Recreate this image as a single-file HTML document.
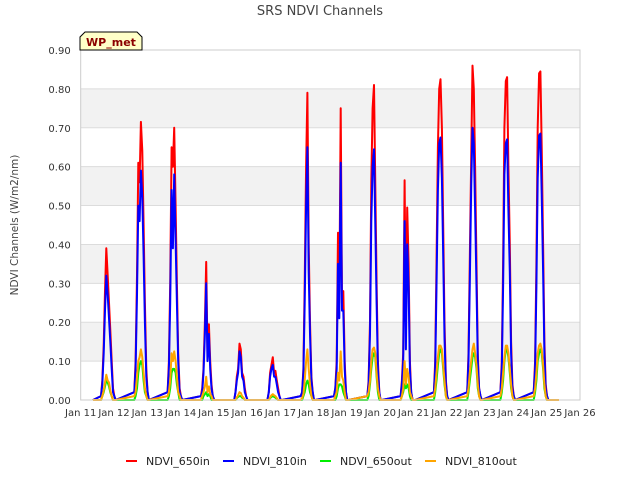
<!DOCTYPE html>
<html><head><meta charset="utf-8"><style>
body{margin:0;background:#fff;font-family:"Liberation Sans","DejaVu Sans",sans-serif;}
svg text{font-family:"DejaVu Sans","Liberation Sans",sans-serif;}
</style></head><body>
<svg id="chart" width="640" height="480" xmlns="http://www.w3.org/2000/svg">
<text x="320" y="15" text-anchor="middle" font-size="13" fill="#444">SRS NDVI Channels</text>
<text transform="translate(18,225) rotate(-90)" text-anchor="middle" font-size="10.5" fill="#444">NDVI Channels (W/m2/nm)</text>
<g id="grid"></g><g id="series"></g><g id="axes"></g>
<g>
<path d="M80,50 L80,37 L85,32 L137,32 L142,37 L142,50 Z" fill="#ffffc8" stroke="#000" stroke-width="1"/>
<text x="111" y="46" text-anchor="middle" font-size="11" font-weight="bold" fill="#8b0000">WP_met</text></g>
<g id="legend"></g>
</svg>
<script>
const tickLabels=["Jan 11","Jan 12","Jan 13","Jan 14","Jan 15","Jan 16","Jan 17","Jan 18","Jan 19","Jan 20","Jan 21","Jan 22","Jan 23","Jan 24","Jan 25","Jan 26"];
const yTicks=[0,0.1,0.2,0.3,0.4,0.5,0.6,0.7,0.8,0.9];
const seriesNames=["NDVI_650in","NDVI_810in","NDVI_650out","NDVI_810out"];
const seriesColors=["#ff0000","#0000ff","#00ee00","#ffa500"];
const peakOffset=0.83;
const hourOffsets=[-0.22,-0.18,-0.14,-0.10,-0.06,-0.02,0.02,0.06,0.10,0.14,0.18,0.22];
const red650in=[
[0.01,0.05,0.14,0.28,0.39,0.32,0.25,0.18,0.10,0.03,0.01,0],
[0.02,0.10,0.32,0.61,0.56,0.715,0.64,0.45,0.25,0.08,0.02,0],
[0.02,0.10,0.30,0.65,0.60,0.70,0.50,0.30,0.12,0.03,0.01,0],
[0.01,0.03,0.08,0.20,0.355,0.12,0.195,0.10,0.04,0.01,0,0],
[0,0.02,0.06,0.08,0.145,0.13,0.07,0.06,0.03,0.01,0,0],
[0,0.02,0.07,0.09,0.11,0.07,0.075,0.05,0.03,0.01,0,0],
[0.01,0.02,0.08,0.30,0.60,0.79,0.40,0.20,0.06,0.02,0,0],
[0.01,0.03,0.10,0.43,0.25,0.75,0.26,0.28,0.10,0.02,0,0],
[0.01,0.05,0.20,0.56,0.75,0.81,0.55,0.30,0.10,0.02,0,0],
[0.01,0.05,0.12,0.565,0.20,0.495,0.35,0.10,0.02,0,0,0],
[0.02,0.10,0.35,0.65,0.80,0.825,0.70,0.45,0.20,0.05,0.01,0],
[0.02,0.12,0.36,0.62,0.86,0.80,0.60,0.35,0.12,0.03,0.01,0],
[0.02,0.10,0.35,0.70,0.82,0.83,0.60,0.40,0.15,0.04,0.01,0],
[0.02,0.10,0.35,0.70,0.84,0.845,0.65,0.40,0.15,0.04,0.01,0]];
const blue810in=[
[0.01,0.04,0.12,0.23,0.32,0.27,0.21,0.15,0.08,0.02,0.01,0],
[0.02,0.08,0.27,0.50,0.46,0.59,0.52,0.37,0.20,0.06,0.02,0],
[0.02,0.08,0.25,0.54,0.39,0.58,0.41,0.25,0.10,0.02,0.01,0],
[0.01,0.02,0.07,0.17,0.30,0.10,0.17,0.08,0.03,0.01,0,0],
[0,0.02,0.05,0.07,0.125,0.11,0.06,0.05,0.02,0.01,0,0],
[0,0.02,0.06,0.08,0.09,0.06,0.06,0.04,0.02,0.01,0,0],
[0.01,0.02,0.07,0.25,0.50,0.65,0.33,0.17,0.05,0.02,0,0],
[0.01,0.03,0.08,0.35,0.21,0.61,0.23,0.23,0.08,0.02,0,0],
[0.01,0.04,0.17,0.46,0.60,0.645,0.45,0.25,0.08,0.02,0,0],
[0.01,0.04,0.10,0.46,0.13,0.40,0.29,0.08,0.02,0,0,0],
[0.02,0.08,0.29,0.54,0.66,0.675,0.57,0.37,0.16,0.04,0.01,0],
[0.02,0.10,0.30,0.55,0.70,0.66,0.49,0.29,0.10,0.03,0.01,0],
[0.02,0.08,0.29,0.58,0.66,0.67,0.49,0.33,0.12,0.03,0.01,0],
[0.02,0.08,0.29,0.57,0.68,0.685,0.53,0.33,0.12,0.03,0.01,0]];
const green650out=[
[0,0.01,0.02,0.035,0.05,0.045,0.035,0.02,0.01,0,0,0],
[0,0.01,0.03,0.07,0.09,0.10,0.09,0.05,0.02,0.01,0,0],
[0,0.01,0.03,0.07,0.08,0.08,0.07,0.04,0.02,0,0,0],
[0,0,0.01,0.015,0.02,0.01,0.015,0.01,0,0,0,0],
[0,0,0.005,0.008,0.01,0.01,0.006,0.004,0,0,0,0],
[0,0,0.005,0.008,0.01,0.008,0.006,0.003,0,0,0,0],
[0,0,0.01,0.02,0.04,0.05,0.04,0.02,0.01,0,0,0],
[0,0,0.01,0.03,0.04,0.04,0.035,0.02,0.01,0,0,0],
[0,0.01,0.04,0.08,0.11,0.12,0.11,0.06,0.02,0,0,0],
[0,0.01,0.02,0.04,0.03,0.04,0.03,0.01,0,0,0,0],
[0,0.02,0.05,0.09,0.12,0.13,0.12,0.08,0.04,0.01,0,0],
[0,0.02,0.05,0.08,0.11,0.12,0.11,0.08,0.03,0.01,0,0],
[0,0.02,0.05,0.10,0.13,0.13,0.11,0.07,0.03,0.01,0,0],
[0,0.02,0.05,0.10,0.12,0.13,0.12,0.08,0.03,0.01,0,0]];
const orange810out=[
[0,0.01,0.025,0.045,0.065,0.05,0.045,0.025,0.01,0,0,0],
[0.01,0.02,0.06,0.10,0.11,0.13,0.11,0.07,0.03,0.01,0,0],
[0.01,0.02,0.05,0.12,0.10,0.125,0.10,0.06,0.02,0.01,0,0],
[0,0.01,0.02,0.035,0.06,0.02,0.035,0.015,0.01,0,0,0],
[0,0,0.007,0.012,0.02,0.018,0.01,0.006,0,0,0,0],
[0,0,0.007,0.012,0.015,0.012,0.01,0.005,0,0,0,0],
[0,0.005,0.015,0.05,0.10,0.13,0.08,0.04,0.01,0,0,0],
[0,0.01,0.02,0.07,0.05,0.125,0.06,0.05,0.02,0,0,0],
[0.01,0.02,0.05,0.10,0.13,0.135,0.12,0.07,0.03,0.01,0,0],
[0,0.01,0.03,0.10,0.04,0.08,0.06,0.02,0.01,0,0,0],
[0.01,0.03,0.07,0.11,0.14,0.14,0.13,0.09,0.05,0.01,0,0],
[0.01,0.03,0.07,0.10,0.13,0.145,0.12,0.09,0.04,0.01,0,0],
[0.01,0.03,0.07,0.11,0.14,0.14,0.12,0.08,0.04,0.01,0,0],
[0.01,0.03,0.07,0.12,0.14,0.145,0.13,0.09,0.04,0.01,0,0]];
const dataStart=0.37, dataEnd=14.37;

const NS="http://www.w3.org/2000/svg";
const L=80.7,R=580,T=50,B=400,yMax=0.9,days=15;
const xs=d=>L+(R-L)*d/days;
const ys=v=>B-(B-T)*v/yMax;
function mk(tag,attrs,parent){const e=document.createElementNS(NS,tag);for(const k in attrs)e.setAttribute(k,attrs[k]);parent.appendChild(e);return e;}
const grid=document.getElementById('grid'),axes=document.getElementById('axes'),ser=document.getElementById('series'),leg=document.getElementById('legend');
for(let i=0;i<yTicks.length-1;i++){
  if(i%2===1){const r=mk('rect',{x:L,y:ys(yTicks[i+1]),width:R-L,height:ys(yTicks[i])-ys(yTicks[i+1]),fill:'#f2f2f2'},grid);
  
  }
}
yTicks.forEach(v=>{
  const l=mk('line',{x1:L,x2:R,y1:ys(v),y2:ys(v),stroke:'#dcdcdc','stroke-width':1},grid);
  
  
  const t=mk('text',{x:L-10,y:ys(v)+4,'text-anchor':'end','font-size':10,fill:'#333'},axes);
  t.textContent=v.toFixed(2);
  
  
});
const frame=mk('rect',{x:L,y:T,width:R-L,height:B-T,fill:'none',stroke:'#ccc'},axes);


tickLabels.forEach((s,i)=>{
  const t=mk('text',{x:xs(i),y:B+16,'text-anchor':'middle','font-size':10,fill:'#333'},axes);
  t.textContent=s;
  
  
});
const allSeries=[red650in,blue810in,green650out,orange810out];
allSeries.forEach((s,si)=>{
  const pts=[[dataStart,0]];
  s.forEach((day,k)=>{day.forEach((v,j)=>pts.push([k+peakOffset+hourOffsets[j],v]));});
  pts.push([dataEnd,0]);
  const p=mk('polyline',{points:pts.map(p=>xs(p[0]).toFixed(1)+','+ys(p[1]).toFixed(1)).join(' '),fill:'none',stroke:seriesColors[si],'stroke-width':2,'stroke-linejoin':'round'},ser);
  
  
});
const legX=[126,223,320,425];
seriesNames.forEach((n,i)=>{
  const g=mk('g',{},leg);
  
  
  mk('line',{x1:legX[i],x2:legX[i]+11,y1:461,y2:461,stroke:seriesColors[i],'stroke-width':2},g);
  const t=mk('text',{x:legX[i]+20,y:465,'font-size':11,fill:'#222'},g);
  t.textContent=n;
});
</script>
</body></html>
